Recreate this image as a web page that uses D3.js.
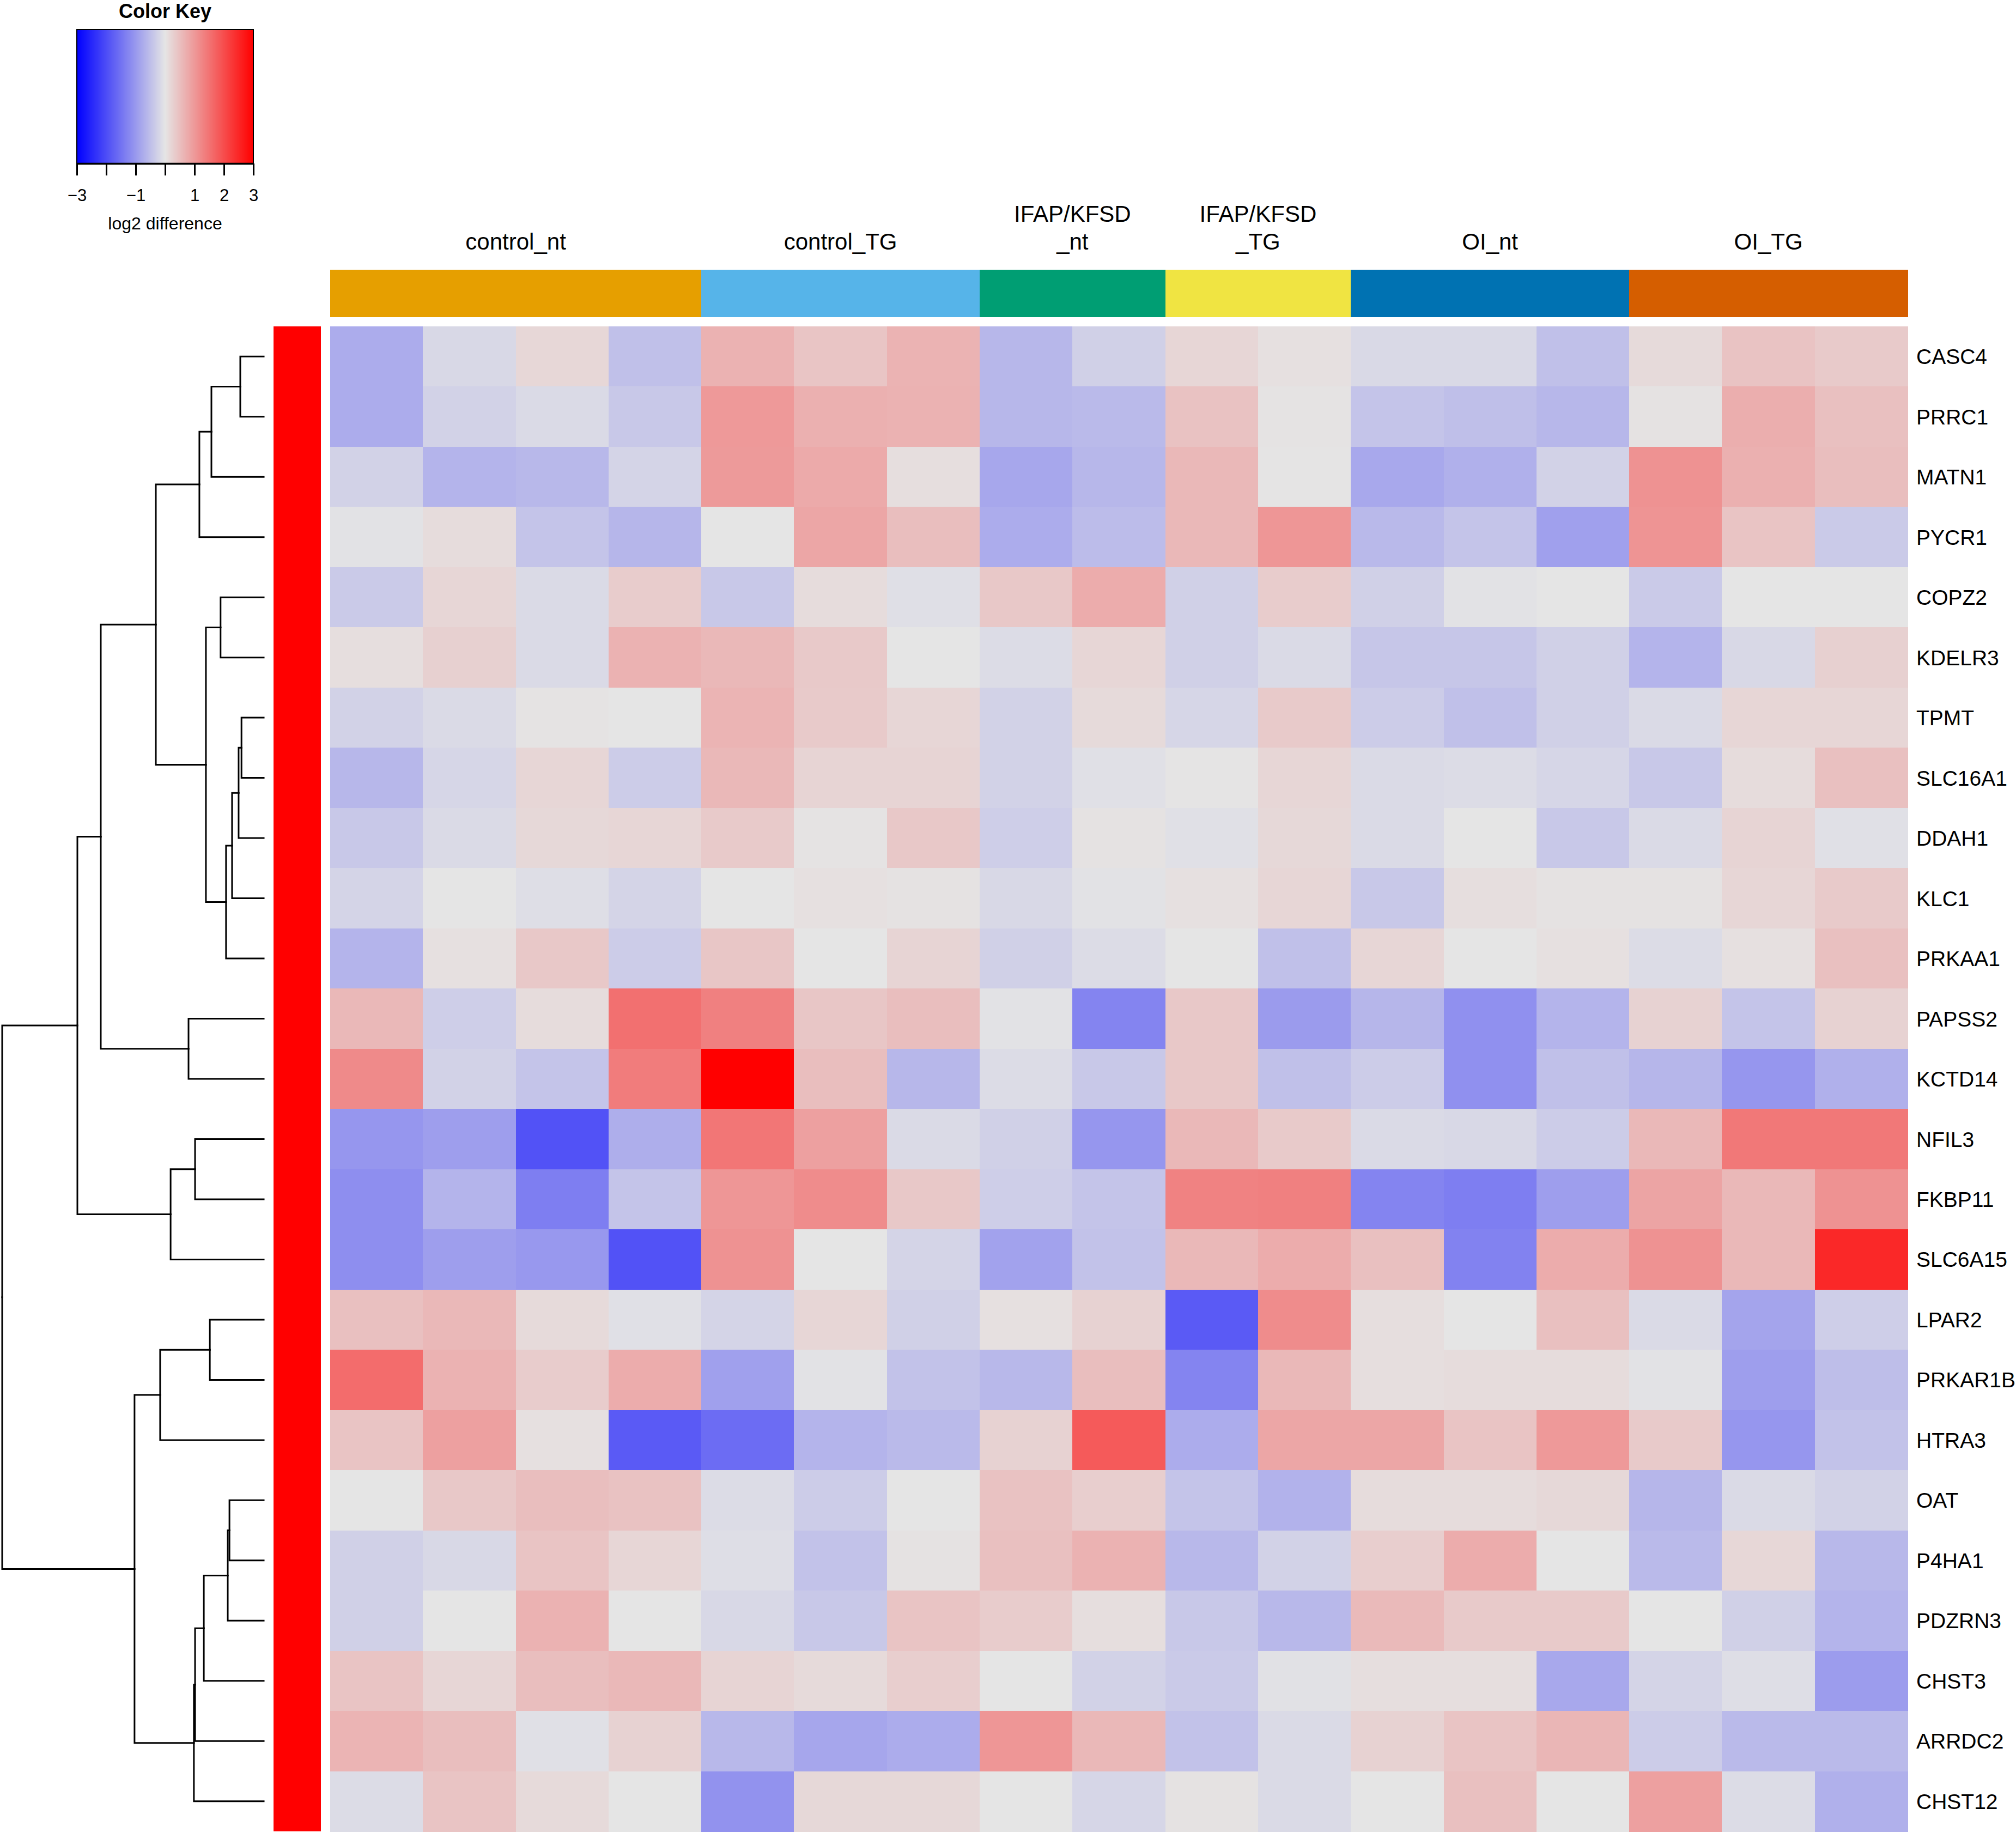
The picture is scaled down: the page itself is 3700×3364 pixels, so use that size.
<!DOCTYPE html>
<html>
<head>
<meta charset="utf-8">
<script src="https://cdn.jsdelivr.net/npm/d3@7"></script>
<style>
  html, body { margin: 0; padding: 0; background: #fff; }
  svg { display: block; }
  text { font-family: "Liberation Sans", Arial, Helvetica, sans-serif; }
</style>
</head>
<body>
<svg id="chart" width="3700" height="3364"></svg>
<script>
// ---------------- DATA ----------------
const rowLabels = ["CASC4","PRRC1","MATN1","PYCR1","COPZ2","KDELR3","TPMT","SLC16A1","DDAH1","KLC1",
  "PRKAA1","PAPSS2","KCTD14","NFIL3","FKBP11","SLC6A15","LPAR2","PRKAR1B","HTRA3","OAT",
  "P4HA1","PDZRN3","CHST3","ARRDC2","CHST12"];

const groupNames  = ["control_nt","control_TG","IFAP/KFSD_nt","IFAP/KFSD_TG","OI_nt","OI_TG"];
const groupLabels = [["control_nt"],["control_TG"],["IFAP/KFSD","_nt"],["IFAP/KFSD","_TG"],["OI_nt"],["OI_TG"]];
const groupSizes  = [4,3,2,2,3,3];
const groupColors = ["#E69F00","#56B4E9","#009E73","#F0E442","#0072B2","#D55E00"];

// log2 difference, rows in rowLabels order, 17 samples in group order
const values = [
  [-0.75,-0.17,0.18,-0.48,0.67,0.42,0.66,-0.60,-0.28,0.20,0.06,-0.16,-0.16,-0.48,0.14,0.44,0.35],
  [-0.75,-0.25,-0.14,-0.38,1.00,0.70,0.67,-0.60,-0.56,0.46,0.02,-0.43,-0.50,-0.60,0.04,0.72,0.48],
  [-0.25,-0.64,-0.59,-0.22,0.98,0.77,0.09,-0.81,-0.60,0.59,0.01,-0.80,-0.69,-0.25,1.09,0.70,0.51],
  [-0.04,0.12,-0.43,-0.62,0.00,0.83,0.51,-0.75,-0.54,0.59,1.03,-0.58,-0.43,-0.90,1.06,0.43,-0.35],
  [-0.35,0.20,-0.14,0.33,-0.38,0.12,-0.08,0.38,0.75,-0.28,0.33,-0.28,-0.04,0.00,-0.35,0.00,0.00],
  [0.09,0.27,-0.14,0.67,0.59,0.37,0.00,-0.12,0.19,-0.28,-0.14,-0.40,-0.40,-0.28,-0.64,-0.17,0.28],
  [-0.25,-0.14,0.02,0.00,0.64,0.35,0.20,-0.25,0.14,-0.20,0.35,-0.33,-0.48,-0.28,-0.14,0.20,0.20],
  [-0.60,-0.20,0.20,-0.33,0.59,0.22,0.22,-0.25,-0.07,0.01,0.20,-0.14,-0.12,-0.20,-0.38,0.12,0.48],
  [-0.38,-0.14,0.17,0.20,0.35,0.02,0.38,-0.30,0.04,-0.07,0.17,-0.14,0.00,-0.38,-0.14,0.22,-0.06],
  [-0.22,0.00,-0.09,-0.22,0.00,0.07,0.04,-0.17,-0.04,0.07,0.20,-0.38,0.09,0.04,0.04,0.20,0.35],
  [-0.64,0.07,0.38,-0.33,0.40,0.00,0.22,-0.28,-0.12,0.00,-0.48,0.20,0.00,0.07,-0.12,0.07,0.48],
  [0.59,-0.30,0.12,1.53,1.32,0.40,0.51,-0.04,-1.27,0.38,-0.97,-0.62,-1.11,-0.64,0.25,-0.43,0.25],
  [1.19,-0.25,-0.43,1.38,3.00,0.51,-0.60,-0.12,-0.38,0.38,-0.48,-0.33,-1.11,-0.48,-0.62,-1.03,-0.69],
  [-1.03,-0.93,-1.93,-0.72,1.45,0.90,-0.14,-0.28,-1.03,0.59,0.35,-0.14,-0.17,-0.33,0.59,1.43,1.43],
  [-1.14,-0.64,-1.35,-0.43,1.03,1.17,0.38,-0.30,-0.43,1.30,1.32,-1.27,-1.35,-0.93,0.85,0.59,1.09],
  [-1.14,-0.93,-1.01,-1.93,1.09,0.00,-0.22,-0.88,-0.46,0.59,0.75,0.48,-1.30,0.75,1.09,0.59,2.48],
  [0.48,0.59,0.14,-0.07,-0.22,0.20,-0.28,0.07,0.25,-1.82,1.17,0.09,0.00,0.48,-0.14,-0.85,-0.30],
  [1.59,0.67,0.33,0.75,-0.90,-0.04,-0.46,-0.59,0.51,-1.27,0.59,0.09,0.12,0.12,-0.04,-0.93,-0.51],
  [0.43,0.90,0.07,-1.82,-1.59,-0.64,-0.56,0.25,1.82,-0.75,0.83,0.83,0.43,1.00,0.35,-1.03,-0.46],
  [0.00,0.38,0.51,0.46,-0.12,-0.33,0.00,0.46,0.30,-0.43,-0.67,0.12,0.12,0.17,-0.62,-0.14,-0.25],
  [-0.28,-0.17,0.43,0.20,-0.09,-0.46,0.04,0.48,0.67,-0.59,-0.25,0.30,0.75,0.00,-0.56,0.18,-0.59],
  [-0.28,0.00,0.67,0.00,-0.17,-0.38,0.43,0.33,0.09,-0.38,-0.59,0.56,0.35,0.35,0.00,-0.28,-0.64],
  [0.43,0.20,0.51,0.59,0.22,0.14,0.30,0.00,-0.25,-0.35,-0.05,0.09,0.09,-0.80,-0.22,-0.09,-0.96],
  [0.64,0.51,-0.07,0.25,-0.59,-0.83,-0.75,1.03,0.59,-0.46,-0.14,0.25,0.43,0.62,-0.33,-0.56,-0.56],
  [-0.12,0.43,0.14,0.00,-1.09,0.17,0.17,0.00,-0.20,0.04,-0.14,0.00,0.48,0.00,0.90,-0.12,-0.69]
];

// row dendrogram (merge heights, root = 1)
const rowTree = {h:1.0, c:[
  {h:0.7125, c:[
    {h:0.623, c:[
      {h:0.4125, c:[
        {h:0.246, c:[{h:0.2, c:[{h:0.0896, c:["CASC4","PRRC1"]}, "MATN1"]}, "PYCR1"]},
        {h:0.221, c:[
          {h:0.165, c:["COPZ2","KDELR3"]},
          {h:0.144, c:[{h:0.121, c:[{h:0.096, c:[{h:0.085, c:["TPMT","SLC16A1"]}, "DDAH1"]}, "KLC1"]}, "PRKAA1"]}
        ]}
      ]},
      {h:0.2875, c:["PAPSS2","KCTD14"]}
    ]},
    {h:0.356, c:[{h:0.2625, c:["NFIL3","FKBP11"]}, "SLC6A15"]}
  ]},
  {h:0.494, c:[
    {h:0.396, c:[{h:0.206, c:["LPAR2","PRKAR1B"]}, "HTRA3"]},
    {h:0.267, c:[{h:0.2625, c:[{h:0.229, c:[{h:0.1375, c:[{h:0.131, c:["OAT","P4HA1"]}, "PDZRN3"]}, "CHST3"]}, "ARRDC2"]}, "CHST12"]}
  ]}
]};

const keyTicks = [-3,-2,-1,0,1,2,3];
const keyTickLabels = [-3,-1,1,2,3];

// ---------------- DRAW ----------------
const svg = d3.select("#chart");
const font = "'Liberation Sans', Arial, Helvetica, sans-serif";

const samples = [];
groupSizes.forEach((n, g) => { for (let i = 0; i < n; i++) samples.push({g, id: samples.length}); });

const x = d3.scaleBand().domain(samples.map(d => d.id)).range([606, 3501]).padding(0);
const y = d3.scaleBand().domain(rowLabels).range([599, 3361]).padding(0);
const color = d3.scaleLinear().domain([-3, 0, 3]).range(["#0000FF", "#E5E5E5", "#FF0000"])
  .interpolate(d3.interpolateRgb).clamp(true);

// heatmap cells
const cells = [];
values.forEach((row, r) => row.forEach((v, c) => cells.push({r, c, v})));
svg.append("g").selectAll("rect").data(cells).join("rect")
  .attr("x", d => x(d.c))
  .attr("y", d => y(rowLabels[d.r]))
  .attr("width", x.bandwidth() + 0.6)
  .attr("height", y.bandwidth() + 0.6)
  .attr("fill", d => color(d.v))
  .attr("shape-rendering", "crispEdges");

// column side colors
svg.append("g").selectAll("rect").data(samples).join("rect")
  .attr("x", d => x(d.id))
  .attr("y", 495)
  .attr("width", x.bandwidth() + 0.6)
  .attr("height", 87)
  .attr("fill", d => groupColors[d.g])
  .attr("shape-rendering", "crispEdges");

// group labels
const groupInfo = groupNames.map((name, g) => {
  const ids = samples.filter(s => s.g === g).map(s => s.id);
  const x0 = x(ids[0]), x1 = x(ids[ids.length - 1]) + x.bandwidth();
  return {name, lines: groupLabels[g], cx: (x0 + x1) / 2};
});
const gl = svg.append("g").selectAll("text").data(groupInfo).join("text")
  .attr("x", d => d.cx)
  .attr("text-anchor", "middle")
  .attr("font-size", 42)
  .attr("fill", "#000");
gl.each(function(d) {
  const t = d3.select(this);
  const n = d.lines.length;
  d.lines.forEach((line, i) => {
    t.append("tspan").attr("x", d.cx).attr("y", 458 - (n - 1 - i) * 51).text(line);
  });
});

// row side color bar
svg.append("rect")
  .attr("x", 502).attr("y", y.range()[0])
  .attr("width", 87).attr("height", y.range()[1] - y.range()[0])
  .attr("fill", "#FF0000");

// row labels
svg.append("g").selectAll("text").data(rowLabels).join("text")
  .attr("x", 3517)
  .attr("y", d => y(d) + y.bandwidth() / 2)
  .attr("dy", "0.36em")
  .attr("font-size", 39)
  .attr("textLength", null)
  .attr("fill", "#000")
  .text(d => d);

// dendrogram
const root = d3.hierarchy(rowTree, d => (typeof d === "string") ? null : d.c);
const hx = d3.scaleLinear().domain([0, 1]).range([484, 4]);
const hOf = n => (typeof n.data === "string") ? 0 : n.data.h;
root.eachAfter(n => {
  if (!n.children) n.py = y(n.data) + y.bandwidth() / 2;
  else n.py = d3.mean(n.children, c => c.py);
});
svg.append("g").selectAll("path").data(root.links()).join("path")
  .attr("d", l => `M${hx(hOf(l.target))},${l.target.py}H${hx(hOf(l.source))}V${l.source.py}`)
  .attr("fill", "none")
  .attr("stroke", "#000")
  .attr("stroke-width", 3)
  .attr("stroke-linecap", "square");

// ---------------- COLOR KEY ----------------
const kx = d3.scaleLinear().domain([-3, 3]).range([141, 465]);
const kTop = 54, kBot = 300;
const steps = d3.range(-3, 3, 6 / 324);
svg.append("g").selectAll("rect").data(steps).join("rect")
  .attr("x", d => kx(d))
  .attr("y", kTop)
  .attr("width", kx(6 / 324) - kx(0) + 0.8)
  .attr("height", kBot - kTop)
  .attr("fill", d => color(d + 3 / 324))
  .attr("shape-rendering", "crispEdges");
svg.append("rect")
  .attr("x", kx(-3)).attr("y", kTop)
  .attr("width", kx(3) - kx(-3)).attr("height", kBot - kTop)
  .attr("fill", "none").attr("stroke", "#000").attr("stroke-width", 2);

const keyAxis = d3.axisBottom(kx)
  .tickValues(keyTicks)
  .tickSize(22)
  .tickSizeOuter(0)
  .tickPadding(25)
  .tickFormat(d => keyTickLabels.includes(d) ? d3.format("d")(d) : "");
const ka = svg.append("g").attr("transform", `translate(0,${kBot})`).call(keyAxis);
ka.select(".domain").attr("stroke-width", 3.5);
ka.selectAll(".tick line").attr("stroke-width", 3);
ka.selectAll(".tick text").attr("font-size", 31).attr("font-family", font).attr("fill", "#000");

svg.append("text")
  .attr("x", 303).attr("y", 33)
  .attr("text-anchor", "middle")
  .attr("font-size", 36).attr("font-weight", "bold")
  .text("Color Key");
svg.append("text")
  .attr("x", 303).attr("y", 421)
  .attr("text-anchor", "middle")
  .attr("font-size", 32)
  .text("log2 difference");
</script>
</body>
</html>
